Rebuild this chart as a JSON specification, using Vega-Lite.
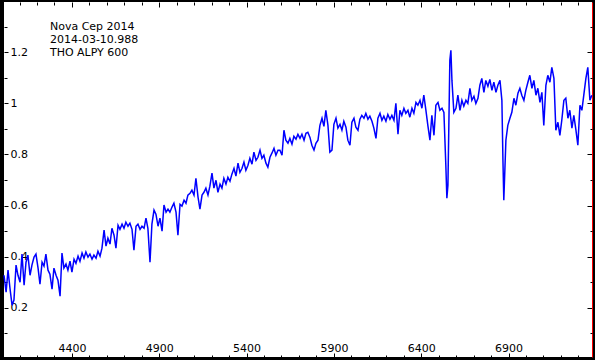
{
  "$schema": "https://vega.github.io/schema/vega-lite/v6.json",
  "width": 588,
  "height": 355,
  "autosize": {"type": "none"},
  "padding": {"left": 4, "top": 2, "right": 3, "bottom": 3},
  "background": "black",
  "config": {
    "view": {"fill": "white", "stroke": null},
    "axis": {"grid": false, "domain": false, "labelFont": "DejaVu Sans", "labelFontSize": 11, "labelColor": "black", "tickColor": "black", "tickWidth": 1, "title": null}
  },
  "data": {"values": [
    {"wl":4011,"flux":0.327},{"wl":4023,"flux":0.261},{"wl":4034,"flux":0.347},{"wl":4045,"flux":0.277},{"wl":4057,"flux":0.210},{"wl":4068,"flux":0.230},{"wl":4080,"flux":0.367},{"wl":4091,"flux":0.327},{"wl":4103,"flux":0.300},{"wl":4114,"flux":0.410},
    {"wl":4126,"flux":0.288},{"wl":4137,"flux":0.378},{"wl":4148,"flux":0.406},{"wl":4160,"flux":0.327},{"wl":4171,"flux":0.367},{"wl":4183,"flux":0.398},{"wl":4194,"flux":0.410},{"wl":4206,"flux":0.355},{"wl":4217,"flux":0.292},{"wl":4229,"flux":0.378},
    {"wl":4240,"flux":0.363},{"wl":4251,"flux":0.410},{"wl":4263,"flux":0.347},{"wl":4274,"flux":0.331},{"wl":4286,"flux":0.273},{"wl":4297,"flux":0.355},{"wl":4309,"flux":0.327},{"wl":4320,"flux":0.308},{"wl":4332,"flux":0.245},{"wl":4343,"flux":0.414},
    {"wl":4354,"flux":0.355},{"wl":4366,"flux":0.371},{"wl":4377,"flux":0.347},{"wl":4389,"flux":0.382},{"wl":4400,"flux":0.339},{"wl":4412,"flux":0.390},{"wl":4423,"flux":0.374},{"wl":4435,"flux":0.402},{"wl":4446,"flux":0.382},{"wl":4458,"flux":0.414},
    {"wl":4469,"flux":0.394},{"wl":4480,"flux":0.418},{"wl":4492,"flux":0.398},{"wl":4503,"flux":0.410},{"wl":4515,"flux":0.390},{"wl":4526,"flux":0.406},{"wl":4538,"flux":0.394},{"wl":4549,"flux":0.421},{"wl":4561,"flux":0.402},{"wl":4572,"flux":0.433},
    {"wl":4584,"flux":0.504},{"wl":4595,"flux":0.441},{"wl":4606,"flux":0.472},{"wl":4618,"flux":0.449},{"wl":4629,"flux":0.511},{"wl":4641,"flux":0.484},{"wl":4652,"flux":0.433},{"wl":4664,"flux":0.523},{"wl":4675,"flux":0.507},{"wl":4687,"flux":0.527},
    {"wl":4698,"flux":0.511},{"wl":4709,"flux":0.535},{"wl":4721,"flux":0.519},{"wl":4732,"flux":0.531},{"wl":4744,"flux":0.507},{"wl":4755,"flux":0.425},{"wl":4767,"flux":0.519},{"wl":4778,"flux":0.527},{"wl":4790,"flux":0.507},{"wl":4801,"flux":0.519},
    {"wl":4813,"flux":0.511},{"wl":4824,"flux":0.551},{"wl":4835,"flux":0.511},{"wl":4847,"flux":0.378},{"wl":4858,"flux":0.527},{"wl":4870,"flux":0.582},{"wl":4881,"flux":0.566},{"wl":4893,"flux":0.519},{"wl":4904,"flux":0.551},{"wl":4916,"flux":0.500},
    {"wl":4927,"flux":0.602},{"wl":4939,"flux":0.574},{"wl":4950,"flux":0.586},{"wl":4961,"flux":0.574},{"wl":4973,"flux":0.594},{"wl":4984,"flux":0.609},{"wl":4996,"flux":0.574},{"wl":5007,"flux":0.484},{"wl":5019,"flux":0.605},{"wl":5030,"flux":0.598},
    {"wl":5042,"flux":0.621},{"wl":5053,"flux":0.609},{"wl":5064,"flux":0.641},{"wl":5076,"flux":0.648},{"wl":5087,"flux":0.660},{"wl":5099,"flux":0.641},{"wl":5110,"flux":0.707},{"wl":5122,"flux":0.633},{"wl":5133,"flux":0.586},{"wl":5145,"flux":0.641},
    {"wl":5156,"flux":0.652},{"wl":5167,"flux":0.668},{"wl":5179,"flux":0.641},{"wl":5190,"flux":0.676},{"wl":5202,"flux":0.727},{"wl":5213,"flux":0.668},{"wl":5225,"flux":0.699},{"wl":5236,"flux":0.652},{"wl":5248,"flux":0.684},{"wl":5259,"flux":0.668},
    {"wl":5270,"flux":0.707},{"wl":5282,"flux":0.684},{"wl":5293,"flux":0.711},{"wl":5305,"flux":0.695},{"wl":5316,"flux":0.723},{"wl":5328,"flux":0.746},{"wl":5339,"flux":0.715},{"wl":5351,"flux":0.766},{"wl":5362,"flux":0.730},{"wl":5374,"flux":0.746},
    {"wl":5385,"flux":0.770},{"wl":5396,"flux":0.738},{"wl":5408,"flux":0.758},{"wl":5419,"flux":0.785},{"wl":5431,"flux":0.762},{"wl":5442,"flux":0.809},{"wl":5454,"flux":0.777},{"wl":5465,"flux":0.789},{"wl":5477,"flux":0.817},{"wl":5488,"flux":0.785},
    {"wl":5499,"flux":0.797},{"wl":5511,"flux":0.766},{"wl":5522,"flux":0.750},{"wl":5534,"flux":0.789},{"wl":5545,"flux":0.805},{"wl":5557,"flux":0.824},{"wl":5568,"flux":0.797},{"wl":5580,"flux":0.817},{"wl":5591,"flux":0.817},{"wl":5603,"flux":0.797},
    {"wl":5614,"flux":0.895},{"wl":5625,"flux":0.856},{"wl":5637,"flux":0.844},{"wl":5648,"flux":0.863},{"wl":5660,"flux":0.840},{"wl":5671,"flux":0.871},{"wl":5683,"flux":0.860},{"wl":5694,"flux":0.879},{"wl":5706,"flux":0.863},{"wl":5717,"flux":0.879},
    {"wl":5729,"flux":0.856},{"wl":5740,"flux":0.883},{"wl":5751,"flux":0.887},{"wl":5763,"flux":0.867},{"wl":5774,"flux":0.836},{"wl":5786,"flux":0.817},{"wl":5797,"flux":0.844},{"wl":5809,"flux":0.856},{"wl":5820,"flux":0.914},{"wl":5832,"flux":0.942},
    {"wl":5843,"flux":0.910},{"wl":5854,"flux":0.973},{"wl":5866,"flux":0.914},{"wl":5877,"flux":0.809},{"wl":5889,"flux":0.817},{"wl":5900,"flux":0.918},{"wl":5912,"flux":0.942},{"wl":5923,"flux":0.903},{"wl":5935,"flux":0.918},{"wl":5946,"flux":0.895},
    {"wl":5957,"flux":0.930},{"wl":5969,"flux":0.907},{"wl":5980,"flux":0.856},{"wl":5992,"flux":0.836},{"wl":6003,"flux":0.926},{"wl":6015,"flux":0.942},{"wl":6026,"flux":0.907},{"wl":6038,"flux":0.895},{"wl":6049,"flux":0.938},{"wl":6060,"flux":0.953},
    {"wl":6072,"flux":0.942},{"wl":6083,"flux":0.961},{"wl":6095,"flux":0.938},{"wl":6106,"flux":0.950},{"wl":6118,"flux":0.930},{"wl":6129,"flux":0.903},{"wl":6141,"flux":0.863},{"wl":6152,"flux":0.942},{"wl":6164,"flux":0.961},{"wl":6175,"flux":0.934},
    {"wl":6186,"flux":0.950},{"wl":6198,"flux":0.930},{"wl":6209,"flux":0.957},{"wl":6221,"flux":0.938},{"wl":6232,"flux":0.953},{"wl":6244,"flux":0.934},{"wl":6255,"flux":1.000},{"wl":6267,"flux":0.879},{"wl":6278,"flux":0.973},{"wl":6289,"flux":0.953},
    {"wl":6301,"flux":0.981},{"wl":6312,"flux":0.961},{"wl":6324,"flux":0.973},{"wl":6335,"flux":0.946},{"wl":6347,"flux":0.981},{"wl":6358,"flux":0.961},{"wl":6370,"flux":1.004},{"wl":6381,"flux":0.993},{"wl":6393,"flux":1.012},{"wl":6404,"flux":0.981},
    {"wl":6415,"flux":1.032},{"wl":6427,"flux":0.973},{"wl":6438,"flux":0.914},{"wl":6450,"flux":0.856},{"wl":6461,"flux":0.953},{"wl":6473,"flux":0.875},{"wl":6484,"flux":0.993},{"wl":6496,"flux":1.004},{"wl":6507,"flux":0.973},{"wl":6519,"flux":0.981},
    {"wl":6530,"flux":0.965},{"wl":6541,"flux":0.758},{"wl":6547,"flux":0.629},{"wl":6553,"flux":0.680},{"wl":6564,"flux":1.169},{"wl":6570,"flux":1.208},{"wl":6576,"flux":1.090},{"wl":6587,"flux":0.965},{"wl":6599,"flux":0.981},{"wl":6610,"flux":1.032},
    {"wl":6622,"flux":0.973},{"wl":6633,"flux":1.012},{"wl":6644,"flux":0.989},{"wl":6656,"flux":1.012},{"wl":6667,"flux":1.000},{"wl":6679,"flux":1.059},{"wl":6690,"flux":1.012},{"wl":6702,"flux":1.028},{"wl":6713,"flux":1.000},{"wl":6725,"flux":1.020},
    {"wl":6736,"flux":1.071},{"wl":6747,"flux":1.098},{"wl":6759,"flux":1.043},{"wl":6770,"flux":1.090},{"wl":6782,"flux":1.067},{"wl":6793,"flux":1.094},{"wl":6805,"flux":1.051},{"wl":6816,"flux":1.083},{"wl":6828,"flux":1.043},{"wl":6839,"flux":1.071},
    {"wl":6851,"flux":1.090},{"wl":6862,"flux":1.012},{"wl":6868,"flux":0.777},{"wl":6873,"flux":0.621},{"wl":6885,"flux":0.856},{"wl":6896,"flux":0.914},{"wl":6908,"flux":0.942},{"wl":6919,"flux":0.965},{"wl":6931,"flux":1.020},{"wl":6942,"flux":0.993},
    {"wl":6954,"flux":1.040},{"wl":6965,"flux":1.059},{"wl":6976,"flux":1.032},{"wl":6988,"flux":1.012},{"wl":6999,"flux":1.051},{"wl":7011,"flux":1.083},{"wl":7022,"flux":1.110},{"wl":7034,"flux":1.059},{"wl":7045,"flux":1.090},{"wl":7057,"flux":1.032},
    {"wl":7068,"flux":1.059},{"wl":7080,"flux":1.004},{"wl":7091,"flux":1.043},{"wl":7102,"flux":0.914},{"wl":7114,"flux":1.071},{"wl":7125,"flux":1.110},{"wl":7137,"flux":1.083},{"wl":7148,"flux":1.141},{"wl":7160,"flux":1.098},{"wl":7171,"flux":0.895},
    {"wl":7183,"flux":0.926},{"wl":7194,"flux":0.875},{"wl":7205,"flux":0.934},{"wl":7217,"flux":1.012},{"wl":7228,"flux":1.020},{"wl":7240,"flux":0.942},{"wl":7251,"flux":0.973},{"wl":7263,"flux":0.903},{"wl":7274,"flux":0.953},{"wl":7286,"flux":0.895},
    {"wl":7297,"flux":0.836},{"wl":7309,"flux":0.993},{"wl":7320,"flux":0.973},{"wl":7331,"flux":1.032},{"wl":7343,"flux":1.098},{"wl":7354,"flux":1.141},{"wl":7366,"flux":1.012},{"wl":7377,"flux":1.032}
  ]},
  "layer": [
    {
      "mark": {"type": "line", "color": "#0000ff", "strokeWidth": 1.5},
      "encoding": {
        "x": {"field": "wl", "type": "quantitative", "scale": {"domain": [4011, 7378], "nice": false, "zero": false},
          "axis": {"orient": "bottom", "values": [4400, 4900, 5400, 5900, 6400, 6900], "tickSize": -4, "labelPadding": -2, "labelBaseline": "alphabetic", "labelDx": 3, "format": "d", "labelFlush": false}},
        "y": {"field": "flux", "type": "quantitative", "scale": {"domain": [0.007, 1.397], "nice": false, "zero": false},
          "axis": {"orient": "left", "values": [0.2, 0.4, 0.6, 0.8, 1, 1.2], "tickSize": -4, "labelPadding": -2, "labelAlign": "left", "labelBaseline": "middle", "format": ".1~f", "labelFlush": false}}
      }
    },
    {
      "mark": {"type": "line", "strokeOpacity": 0},
      "encoding": {
        "x": {"field": "wl", "type": "quantitative", "scale": {"domain": [4011, 7378], "nice": false, "zero": false},
          "axis": {"orient": "bottom", "values": [4100, 4200, 4300, 4500, 4600, 4700, 4800, 5000, 5100, 5200, 5300, 5500, 5600, 5700, 5800, 6000, 6100, 6200, 6300, 6500, 6600, 6700, 6800, 7000, 7100, 7200, 7300], "tickSize": -2, "labels": false}},
        "y": {"field": "flux", "type": "quantitative", "scale": {"domain": [0.007, 1.397], "nice": false, "zero": false},
          "axis": {"orient": "left", "values": [0.1, 0.3, 0.5, 0.7, 0.9, 1.1, 1.3], "tickSize": -3, "labels": false}}
      }
    },
    {
      "mark": {"type": "line", "strokeOpacity": 0},
      "encoding": {
        "x": {"field": "wl", "type": "quantitative", "scale": {"domain": [4011, 7378], "nice": false, "zero": false},
          "axis": {"orient": "top", "values": [4400, 4900, 5400, 5900, 6400, 6900], "tickSize": -5, "labels": false}},
        "y": {"field": "flux", "type": "quantitative", "scale": {"domain": [0.007, 1.397], "nice": false, "zero": false},
          "axis": {"orient": "right", "values": [0.2, 0.4, 0.6, 0.8, 1, 1.2], "tickSize": -5, "labels": false, "domain": true, "domainColor": "red", "domainWidth": 1}}
      }
    },
    {
      "mark": {"type": "line", "strokeOpacity": 0},
      "encoding": {
        "x": {"field": "wl", "type": "quantitative", "scale": {"domain": [4011, 7378], "nice": false, "zero": false},
          "axis": {"orient": "top", "values": [4100, 4200, 4300, 4500, 4600, 4700, 4800, 5000, 5100, 5200, 5300, 5500, 5600, 5700, 5800, 6000, 6100, 6200, 6300, 6500, 6600, 6700, 6800, 7000, 7100, 7200, 7300], "tickSize": -3, "labels": false}},
        "y": {"field": "flux", "type": "quantitative", "scale": {"domain": [0.007, 1.397], "nice": false, "zero": false},
          "axis": {"orient": "right", "values": [0.1, 0.3, 0.5, 0.7, 0.9, 1.1, 1.3], "tickSize": -2, "labels": false}}
      }
    },
    {
      "data": {"values": [{"lines": ["Nova Cep 2014", "2014-03-10.988", "THO ALPY 600"]}]},
      "mark": {"type": "text", "align": "left", "baseline": "top", "font": "DejaVu Sans", "fontSize": 11, "lineHeight": 13, "color": "black"},
      "encoding": {
        "x": {"datum": 4274, "type": "quantitative", "scale": {"domain": [4011, 7378], "nice": false, "zero": false}, "axis": null},
        "y": {"datum": 1.323, "type": "quantitative", "scale": {"domain": [0.007, 1.397], "nice": false, "zero": false}, "axis": null},
        "text": {"field": "lines"}
      }
    }
  ],
  "resolve": {"axis": {"x": "independent", "y": "independent"}}
}
